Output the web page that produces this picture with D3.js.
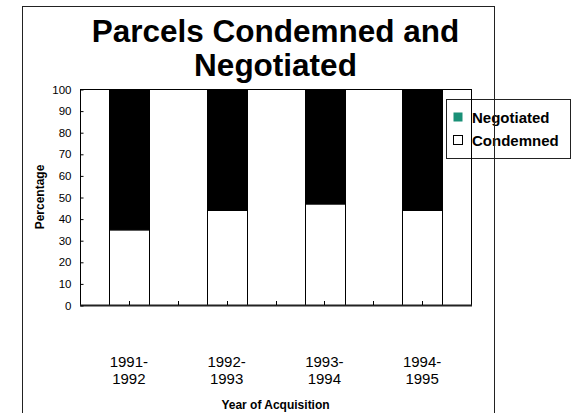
<!DOCTYPE html>
<html>
<head>
<meta charset="utf-8">
<script src="https://cdn.jsdelivr.net/npm/d3@7"></script>
<style>
  html, body { margin: 0; padding: 0; background: #fff; }
  svg { display: block; font-family: "Liberation Sans", Arial, sans-serif; }
</style>
</head>
<body>
<svg id="chart" width="575" height="413"></svg>
<script>
const categories = [["1991-", "1992"], ["1992-", "1993"], ["1993-", "1994"], ["1994-", "1995"]];
const condemned = [35, 44, 47, 44];
const negotiated = [65, 56, 53, 56];
const seriesNames = ["Negotiated", "Condemned"];
const seriesColors = ["#1a9077", "#ffffff"];
const barColors = { Condemned: "#ffffff", Negotiated: "#000000" };
const yTicks = [0, 10, 20, 30, 40, 50, 60, 70, 80, 90, 100];
const titleLines = ["Parcels Condemned and", "Negotiated"];
const xTitle = "Year of Acquisition";
const yTitle = "Percentage";

const svg = d3.select("#chart");
const plot = { left: 80, right: 471, top: 89, bottom: 305 };

const keys = categories.map(c => c.join(""));
const x = d3.scaleBand().domain(keys).range([plot.left, plot.right])
  .paddingInner(0.595).paddingOuter(0.2975);
const cat = d3.scaleBand().domain(keys).range([plot.left, plot.right]).padding(0);
const y = d3.scaleLinear().domain([0, 100]).range([plot.bottom, plot.top]);

// outer frame
svg.append("rect").attr("x", 22.5).attr("y", 6.5).attr("width", 472).attr("height", 420)
  .attr("fill", "none").attr("stroke", "#222").attr("stroke-width", 1);

// title
const tx = (plot.left + plot.right) / 2;
svg.append("text").attr("x", tx).attr("text-anchor", "middle")
  .attr("font-size", 31.5).attr("font-weight", "bold").attr("fill", "#000")
  .selectAll("tspan").data(titleLines).join("tspan")
  .attr("x", tx).attr("y", (d, i) => 41.5 + i * 34).text(d => d);

// stacked data
const data = keys.map((k, i) => ({ key: k, Condemned: condemned[i], Negotiated: negotiated[i] }));
const stack = d3.stack().keys(["Condemned", "Negotiated"]);
const layers = stack(data);

svg.append("g").selectAll("g").data(layers).join("g")
  .attr("fill", d => barColors[d.key])
  .selectAll("rect").data(d => d).join("rect")
  .attr("x", d => Math.round(x(d.data.key)) + 0.5)
  .attr("width", Math.round(x.bandwidth()))
  .attr("y", d => y(d[1]) + 0.5)
  .attr("height", d => y(d[0]) - y(d[1]))
  .attr("stroke", "#000").attr("stroke-width", 1);

// plot border
svg.append("rect").attr("x", plot.left + 0.5).attr("y", plot.top + 0.5)
  .attr("width", plot.right - plot.left).attr("height", plot.bottom - plot.top)
  .attr("fill", "none").attr("stroke", "#000").attr("stroke-width", 1);
svg.append("line").attr("x1", plot.left).attr("x2", plot.right + 1)
  .attr("y1", plot.bottom + 0.5).attr("y2", plot.bottom + 0.5)
  .attr("stroke", "#222").attr("stroke-width", 2);

// x ticks (inside), at category centres and boundaries
const tickPos = [];
keys.forEach((k, i) => {
  if (i > 0) tickPos.push(cat(k));
  tickPos.push(cat(k) + cat.bandwidth() / 2);
});
svg.append("g").selectAll("line").data(tickPos).join("line")
  .attr("x1", d => Math.round(d) + 0.5).attr("x2", d => Math.round(d) + 0.5)
  .attr("y1", plot.bottom).attr("y2", plot.bottom - 4)
  .attr("stroke", "#000").attr("stroke-width", 1);

// y axis
const yAxis = d3.axisLeft(y).tickValues(yTicks).tickSizeInner(-3).tickSizeOuter(0).tickPadding(9);
const yg = svg.append("g").attr("transform", `translate(${plot.left + 0.5},0.5)`).call(yAxis);
yg.select(".domain").remove();
yg.selectAll(".tick line").attr("stroke", "#000");
yg.selectAll(".tick text").attr("font-size", 11.5).attr("fill", "#000")
  .attr("font-family", "Liberation Sans, Arial, sans-serif");

// x labels
svg.append("g").selectAll("text").data(categories).join("text")
  .attr("text-anchor", "middle").attr("font-size", 15).attr("fill", "#000")
  .each(function (d, i) {
    const cx = x(keys[i]) + x.bandwidth() / 2;
    d3.select(this).selectAll("tspan").data(d).join("tspan")
      .attr("x", cx).attr("y", (t, j) => 367 + j * 17).text(t => t);
  });

// axis titles
svg.append("text").attr("x", (plot.left + plot.right) / 2).attr("y", 409)
  .attr("text-anchor", "middle").attr("font-size", 12).attr("font-weight", "bold").text(xTitle);
svg.append("text").attr("transform", `translate(44,${(plot.top + plot.bottom) / 2}) rotate(-90)`)
  .attr("text-anchor", "middle").attr("font-size", 12).attr("font-weight", "bold").text(yTitle);

// legend
const lg = svg.append("g");
lg.append("rect").attr("x", 446.5).attr("y", 99.5).attr("width", 124).attr("height", 59)
  .attr("fill", "#fff").attr("stroke", "#222").attr("stroke-width", 1);
const items = lg.selectAll("g").data(seriesNames).join("g")
  .attr("transform", (d, i) => `translate(0,${i * 23})`);
items.append("rect").attr("x", 453.5).attr("y", 112.5).attr("width", 9).attr("height", 9)
  .attr("fill", (d, i) => seriesColors[i]).attr("stroke", (d, i) => i === 0 ? "none" : "#000");
items.append("text").attr("x", 472).attr("y", 123).attr("font-size", 15)
  .attr("font-weight", "bold").attr("fill", "#000").text(d => d);

// lines that show through legend
svg.append("line").attr("x1", plot.right + 0.5).attr("x2", plot.right + 0.5)
  .attr("y1", 99).attr("y2", 159).attr("stroke", "#000");
svg.append("line").attr("x1", 494.5).attr("x2", 494.5)
  .attr("y1", 99).attr("y2", 159).attr("stroke", "#222");
</script>
</body>
</html>
